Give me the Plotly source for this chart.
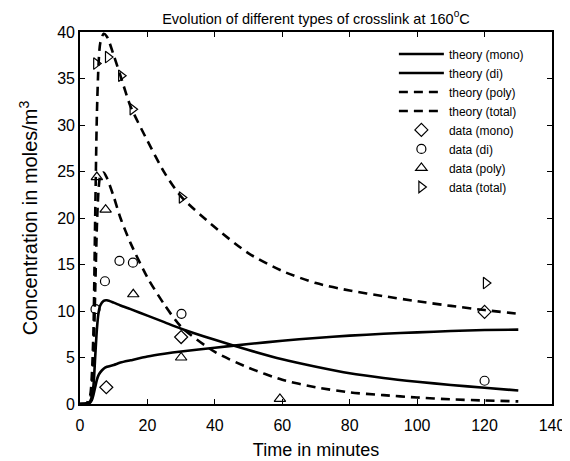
import plotly.graph_objects as go

# Theory curves
t_theory = [0, 2, 3, 3.5, 4, 4.5, 5, 5.5, 6, 7, 8, 10, 12, 15, 20, 25, 30, 40, 50, 60, 70, 80, 90, 100, 110, 120, 130]
th_mono  = [0, 0.02, 0.15, 0.4, 1.0, 1.8, 2.6, 3.1, 3.4, 3.8, 4.0, 4.2, 4.45, 4.7, 5.1, 5.4, 5.65, 6.05, 6.45, 6.8, 7.1, 7.35, 7.55, 7.7, 7.85, 7.95, 8.0]
th_di    = [0, 0.05, 0.3, 0.8, 2.0, 5.0, 8.0, 9.8, 10.6, 11.1, 11.15, 10.9, 10.6, 10.2, 9.5, 8.8, 8.1, 6.9, 5.8, 4.8, 4.0, 3.3, 2.8, 2.4, 2.05, 1.75, 1.45]
th_poly  = [0, 0.05, 0.5, 1.8, 5.0, 12.0, 19.0, 23.0, 24.5, 24.9, 24.3, 22.3, 20.0, 17.3, 13.6, 10.7, 8.3, 5.6, 3.9, 2.6, 1.8, 1.25, 0.95, 0.7, 0.5, 0.38, 0.28]
th_total = [0, 0.1, 0.9, 3.0, 8.0, 20.0, 31.0, 36.5, 38.8, 39.8, 39.5, 37.5, 35.3, 32.0, 28.3, 24.9, 22.3, 19.0, 16.2, 14.3, 13.0, 12.2, 11.6, 11.05, 10.55, 10.1, 9.7]

# Measured data
t_mono = [7.8, 30, 120]
d_mono = [1.8, 7.2, 9.9]
t_di = [4.6, 7.4, 11.7, 15.7, 30.1, 120]
d_di = [10.2, 13.2, 15.4, 15.2, 9.7, 2.5]
t_poly = [5.0, 7.6, 15.8, 30, 59.3]
d_poly = [24.4, 20.9, 11.8, 5.0, 0.55]
t_total = [4.8, 8.3, 12.2, 15.6, 30.2, 120.4]
d_total = [36.6, 37.3, 35.3, 31.7, 22.2, 13.0]

x_ticks = [0, 20, 40, 60, 80, 100, 120, 140]
y_ticks = [0, 5, 10, 15, 20, 25, 30, 35, 40]

FONT = "Liberation Sans, Arial, Helvetica, sans-serif"
fig = go.Figure()
dash = "9px,6px"
lw = 2.6
for name, y, d in [("theory (mono)", th_mono, "solid"), ("theory (di)", th_di, "solid"),
                   ("theory (poly)", th_poly, dash), ("theory (total)", th_total, dash)]:
    fig.add_trace(go.Scatter(x=t_theory, y=y, mode="lines", name=name,
                             line=dict(color="black", width=lw, dash=d, shape="spline", smoothing=0.7)))

for name, x, y, sym, sz in [("data (mono)", t_mono, d_mono, "diamond-open", 10),
                            ("data (di)", t_di, d_di, "circle-open", 9),
                            ("data (poly)", t_poly, d_poly, "triangle-up-open", 10),
                            ("data (total)", t_total, d_total, "triangle-right-open", 10)]:
    fig.add_trace(go.Scatter(x=x, y=y, mode="markers", name=name,
                             marker=dict(symbol=sym, size=sz, color="black",
                                         line=dict(color="black", width=1.2))))

axis_common = dict(showgrid=False, zeroline=False, showline=True, linecolor="black",
                   linewidth=1.6, mirror="ticks", ticks="inside", ticklen=5,
                   tickcolor="black", tickwidth=1.2, automargin=False,
                   ticklabeloverflow="allow",
                   tickfont=dict(family=FONT, size=16, color="black"))
fig.update_xaxes(range=[0, 140], tickvals=x_ticks, ticktext=[str(v) for v in x_ticks],
                 ticklabelstandoff=6,
                 title=dict(text="Time in minutes", font=dict(family=FONT, size=18, color="black"), standoff=10),
                 **axis_common)
fig.update_yaxes(range=[0, 40], tickvals=y_ticks, ticktext=[str(v) for v in y_ticks],
                 title=dict(text="Concentration in moles/m<sup>3</sup>", font=dict(family=FONT, size=20, color="black"), standoff=14),
                 **axis_common)

# The page adds an 8px body margin, so the figure is sized to fit the window
fig.update_layout(
    width=562, height=453,
    margin=dict(l=72, r=18, t=24, b=57),
    paper_bgcolor="white", plot_bgcolor="white",
    title=dict(text="Evolution of different types of crosslink at 160<sup>o</sup>C",
               x=0.5, xref="paper", xanchor="center", y=0.988, yref="container", yanchor="top",
               pad=dict(t=0, b=0),
               font=dict(family=FONT, size=14.5, color="black")),
    legend=dict(x=0.665, y=0.98, xanchor="left", yanchor="top", bgcolor="rgba(0,0,0,0)",
                borderwidth=0, font=dict(family=FONT, size=12, color="black"),
                itemwidth=45, tracegroupgap=0),
    showlegend=True,
)

fig.write_html("out.html")
